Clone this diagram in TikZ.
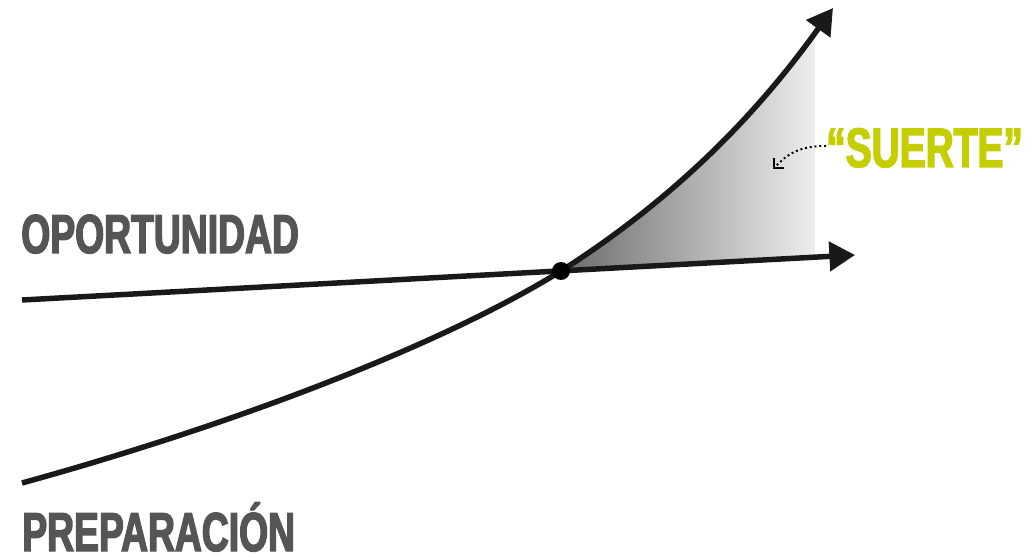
\documentclass[tikz,border=0pt]{standalone}
\usepackage{fontspec}
\usepackage{xcolor}
\usepackage{tikz}
\usetikzlibrary{arrows.meta, positioning}
\newfontfamily\condfont[FakeStretch=0.68, FakeBold=2.5]{Liberation Sans}
\newfontfamily\luckfont[FakeStretch=0.70, FakeBold=2.5]{Liberation Sans}
\definecolor{labelgray}{RGB}{85,85,85}
\definecolor{luckgreen}{RGB}{196,206,0}
\tikzstyle{axisline} = [line width=3.9pt, black!90, -{Triangle[length=0.64cm,width=0.72cm]}]
\tikzstyle{biglabel} = [inner sep=0pt, anchor=base west, text depth=0pt, font=\condfont\bfseries\fontsize{39}{42}\selectfont, text=labelgray]

\begin{document}
\begin{tikzpicture}[x=0.025cm, y=-0.025cm]
    \useasboundingbox (0,0) rectangle (1032,557);
    % end points
    \coordinate (opstart) at (22,300);
    \coordinate (optip) at (855,255);
    \coordinate (prstart) at (22,483);
    \coordinate (cross) at (561,271);
    \coordinate (prtip) at (833,8);

    % shaded "luck" area
    \begin{scope}
        \clip (cross) rectangle (815,0);
        \shade[left color=black!58, middle color=black!11, right color=black!3]
            (cross) .. controls (680,195) and (760,110) .. (prtip) -- (833,256) -- cycle;
    \end{scope}

    % lines
    \draw [axisline] (opstart) -- (optip);
    \draw [axisline] (prstart) .. controls (250,420) and (450,340) .. (cross)
        .. controls (680,195) and (760,110) .. (prtip);
    \fill (cross) circle (9);

    % labels
    \node (oplabel) [biglabel] at (21,253) {OPORTUNIDAD};
    \node (prlabel) [biglabel] at (22,551) {PREPARACIÓN};
    \node (luck) [biglabel, text=luckgreen, font=\luckfont\bfseries\fontsize{39.5}{42}\selectfont] at (826,167) {“SUERTE”};
    \coordinate (luckpoint) at (773,169);
    \draw [line width=1.4pt, dotted, -{Straight Barb[length=5pt,width=10pt,line width=1.2pt]}]
        (luck.west |- 0,146) .. controls (795,146) and (785,157) .. (luckpoint);
\end{tikzpicture}
\end{document}
